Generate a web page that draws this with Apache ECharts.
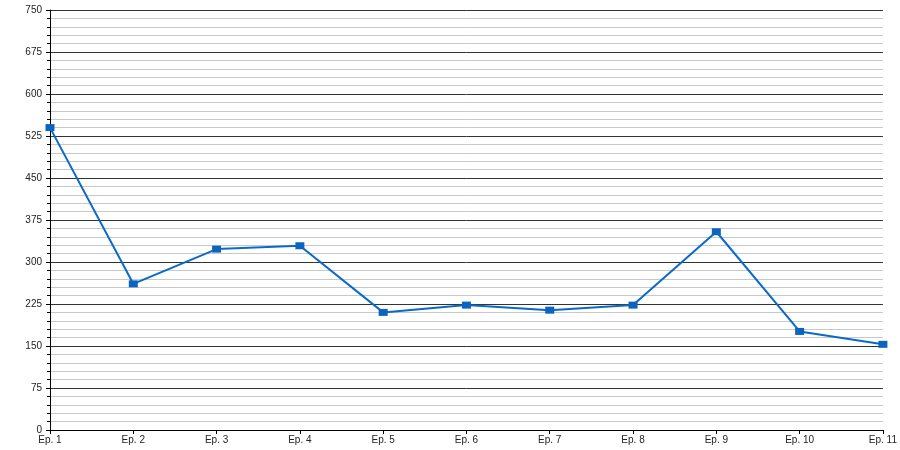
<!DOCTYPE html>
<html><head><meta charset="utf-8">
<script src="https://cdn.jsdelivr.net/npm/echarts@6/dist/echarts.min.js"></script>
<style>html,body{margin:0;padding:0;background:#fff}#c{width:900px;height:450px}</style>
</head><body><div id="c"></div>
<script>
const categories = ["Ep. 1","Ep. 2","Ep. 3","Ep. 4","Ep. 5","Ep. 6","Ep. 7","Ep. 8","Ep. 9","Ep. 10","Ep. 11"];
const values = [540, 261, 323, 329, 210, 223, 214, 223, 354, 176, 153];
const yMin = 0, yMax = 750, yStep = 75;

const chart = echarts.init(document.getElementById('c'), null, {renderer:'canvas'});
chart.setOption({
  animation:false,
  backgroundColor:'#fff',
  grid:{left:50,right:14,top:10,bottom:20,containLabel:false},
  xAxis:{
    type:'category', data:categories, boundaryGap:false,
    axisLine:{show:true,lineStyle:{color:'#000',width:1}},
    axisTick:{show:true,length:4,lineStyle:{color:'#000'}},
    axisLabel:{color:'#222',fontFamily:'Liberation Sans',fontSize:10,margin:5,interval:0,showMaxLabel:true},
    splitLine:{show:false}
  },
  yAxis:{
    type:'value', min:yMin, max:yMax, interval:yStep,
    axisLine:{show:true,lineStyle:{color:'#000',width:1}},
    axisTick:{show:true,length:4,lineStyle:{color:'#000'}},
    minorTick:{show:true,splitNumber:5,length:3,lineStyle:{color:'#000'}},
    axisLabel:{color:'#222',fontFamily:'Liberation Sans',fontSize:10,margin:8},
    splitLine:{show:true,lineStyle:{color:'#333',width:1}},
    minorSplitLine:{show:true,lineStyle:{color:'#c8c8c8',width:1}}
  },
  series:[{
    type:'line', data:values,
    symbol:'rect', symbolSize:[9,7],
    itemStyle:{color:'#0a64c0'},
    lineStyle:{color:'#0a6ac8',width:2}
  }]
});
</script></body></html>
